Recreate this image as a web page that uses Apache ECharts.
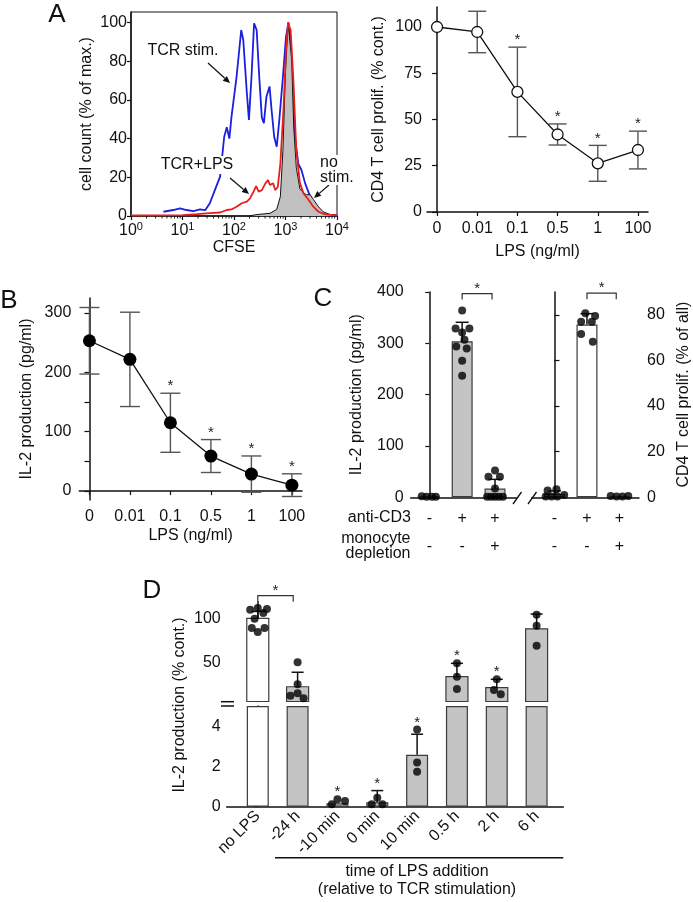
<!DOCTYPE html>
<html><head><meta charset="utf-8">
<script src="https://cdn.jsdelivr.net/npm/echarts@6/dist/echarts.min.js"></script>
<style>html,body{margin:0;padding:0;background:#fff}#c{width:693px;height:902px}</style>
</head><body><div id="c"></div>
<script>
// ---------------- Panel A (CFSE histogram) ----------------
const blueExp   = [0.63,0.82,0.95,1.08,1.21,1.34,1.44,1.53,1.63,1.73,1.81,1.86,1.91,1.95,2.05,2.14,2.18,2.25,2.29,2.34,2.39,2.44,2.49,2.54,2.58,2.63,2.69,2.73,2.78,2.83,2.88,2.95,3.01,3.06,3.12,3.18,3.25,3.31,3.38,3.48,3.57,3.7,3.86,4.0];
const blueCount = [2.2,3.1,4,3.1,2.5,3.4,3,6.6,13.5,20.4,41,45.9,40,51,72,96.2,91,63.5,49.7,72,99.7,96.2,72,51,48,61.7,67,54.8,41,35.8,49.7,72,92.8,100,80.7,41,27,23.8,17,10,4.8,1.4,0.5,0];
const redExp    = [0,0.5,1.0,1.28,1.53,1.73,1.86,1.95,2.05,2.15,2.25,2.31,2.38,2.43,2.48,2.54,2.61,2.66,2.7,2.76,2.8,2.85,2.9,2.96,3.01,3.05,3.1,3.15,3.21,3.28,3.35,3.45,3.54,3.64,3.77,4.0];
const redCount  = [0.3,0.3,0.5,1,1.5,1.8,3.1,3.4,4.8,6.6,7.4,9.1,12.6,15.5,12.6,13.4,16.9,18.6,16,16.9,13.4,15,27,54.8,86,100,96,72,34,17,11.7,8.3,4.8,2.2,0.8,0.3];
const grayExp   = [2.3,2.43,2.7,2.83,2.9,2.95,3.0,3.05,3.12,3.16,3.21,3.28,3.35,3.41,3.48,3.54,3.64,3.73,3.86,4.0];
const grayCount = [0,0.7,1.4,3.4,10,34,75,100,80.7,46,25,14,12,11,11,8.6,4.8,2.2,0.8,0.5];
const histYTicks = [0,20,40,60,80,100];
const histMinorTicks = [2,3,4,5,6,7,8,9,20,30,40,50,60,70,80,90,200,300,400,500,600,700,800,900,2000,3000,4000,5000,6000,7000,8000,9000];

// ---------------- Panel A (proliferation vs LPS) ----------------
const lpsCats    = ['0','0.01','0.1','0.5','1','100'];
const prolifMean = [100,97.3,64.9,41.9,26.3,33.5];
const prolifSd   = [0,11.2,24.2,5.7,9.7,10.2];
const prolifSig  = [0,0,1,1,1,1];
const prolifTicks = [0,25,50,75,100];

// ---------------- Panel B (IL-2 vs LPS) ----------------
const il2Mean = [253,221.7,115,59,28.6,10];
const il2Sd   = [56,79.4,49.7,27.7,30.5,19.1];
const il2Sig  = [0,0,1,1,1,1];
const il2Ticks  = [0,50,100,150,200,250,300];
const il2Labels = [0,100,200,300];

// ---------------- Panel C ----------------
const cAntiCD3   = ['-','+','+','-','+','+'];
const cDepletion = ['-','-','+','-','-','+'];
const cIl2Mean = [1.5,304,17];
const cIl2Sd   = [0,37,18];
const cIl2Dots = [[2,1,1,1],[364,329,329,321,307,294,290,266,237],[52,40,40,17,1,1,1,1,1]];
const cIl2Jitter = [[-0.23,-0.08,0.08,0.2],[0,-0.2,0.22,0,0.07,-0.18,0.14,0,0],[0,-0.2,0.15,0,-0.24,-0.12,0,0.12,0.24]];
const cProlifMean = [1.4,75.7,0.5];
const cProlifSd   = [1.4,4.8,0];
const cProlifDots = [[3,3.5,0.3,0.3,0.3,1],[80.7,79.5,77,77,71.6,68.2],[0.6,0.4,0.4,0.6]];
const cProlifJitter = [[-0.21,0.06,-0.27,-0.09,0.09,0.3],[-0.05,0.25,-0.18,0.15,-0.18,0.18],[-0.27,-0.09,0.09,0.27]];
const cIl2Bracket = [1,1.91,397];
const cProlifBracket = [1,1.9,89.5];
const cIl2Ticks = [0,100,200,300,400];
const cProlifTicks = [0,20,40,60,80];

// ---------------- Panel D ----------------
const dCats = ['no LPS','-24 h','-10 min','0 min','10 min','0.5 h','2 h','6 h'];
const dMean = [100.8,22,0.17,0.22,2.58,33.6,21,88.8];
const dSd   = [8,16.7,0,0.58,1.02,15.4,9.6,17];
const dSig  = [0,0,1,1,1,1,1,0];
const dDots = [[110.7,112.7,111.6,107,100.3,89.6,85,89.6],[50.3,24.9,11.7,14.5,8.7],[0.37,0.12,0.28],[0.45,0.12,0.12],[3.83,2.2,1.73],[49,33.6,19.4],[30.6,18.3,13.3],[105,92.3,69.1]];
const dJitter = [[-0.19,0,0.23,0.14,-0.08,-0.15,0,0.17],[0,0,-0.18,0,0.15],[0,-0.14,0.19],[0,-0.14,0.13],[0,0,0],[0,0,0],[0,-0.07,0.1],[0,0,0]];
const dBracket = [0,0.89,127];
const dBreak = 5;
const dUpperTicks = [50,100];
const dLowerTicks = [0,2,4];

// ---------------- styling ----------------
const FONT = '"Liberation Sans", Arial, Helvetica, sans-serif';
const INK = '#111';
const GRAY = '#c4c4c4';
const EDGE = '#3c3c3c';
const FS = 16;

function merge(a, b) {
  const out = Array.isArray(a) ? a.slice() : Object.assign({}, a);
  for (const k in b) {
    if (b[k] && typeof b[k] === 'object' && !Array.isArray(b[k]) && typeof b[k] !== 'function' && a && a[k] && typeof a[k] === 'object' && !Array.isArray(a[k])) out[k] = merge(a[k], b[k]);
    else out[k] = b[k];
  }
  return out;
}
const baseAxis = {
  type: 'value',
  axisLine: {show: true, lineStyle: {color: INK, width: 1.5}},
  axisTick: {show: true, length: 4, lineStyle: {color: INK, width: 1.2}},
  axisLabel: {color: INK, fontSize: FS, fontFamily: FONT, margin: 6},
  splitLine: {show: false},
  nameLocation: 'middle',
  nameTextStyle: {color: INK, fontSize: FS, fontFamily: FONT}
};
const ax = o => merge(baseAxis, o);

function errRender(opt) {
  return function (params, api) {
    const x = api.value(0), m = api.value(1), sd = api.value(2), sig = api.value(3), st = api.value(4);
    const c = api.coord([x, m]);
    const hi = api.coord([x, m + sd]);
    const lo = api.coord([x, opt.two ? m - sd : m]);
    const s = {stroke: opt.color, lineWidth: opt.lw};
    const ch = [];
    if (sd > 0) {
      ch.push({type: 'line', shape: {x1: c[0], y1: lo[1], x2: c[0], y2: hi[1]}, style: s});
      ch.push({type: 'line', shape: {x1: c[0] - opt.cap, y1: hi[1], x2: c[0] + opt.cap, y2: hi[1]}, style: s});
      if (opt.two) ch.push({type: 'line', shape: {x1: c[0] - opt.cap, y1: lo[1], x2: c[0] + opt.cap, y2: lo[1]}, style: s});
    }
    if (sig) {
      const p = api.coord([x, st]);
      ch.push({type: 'text', style: {text: '*', x: p[0], y: p[1] - opt.starGap, align: 'center', verticalAlign: 'middle', fontSize: 15, fontFamily: FONT, fill: '#222'}});
    }
    return {type: 'group', children: ch};
  };
}
function bracketRender(params, api) {
  const a = api.coord([api.value(0), api.value(2)]);
  const b = api.coord([api.value(1), api.value(2)]);
  return {type: 'group', children: [
    {type: 'polyline', shape: {points: [[a[0], a[1] + 6], [a[0], a[1]], [b[0], b[1]], [b[0], b[1] + 6]]}, style: {stroke: '#333', lineWidth: 1.2, fill: null}},
    {type: 'text', style: {text: '*', x: (a[0] + b[0]) / 2, y: a[1] - 5, align: 'center', verticalAlign: 'middle', fontSize: 15, fontFamily: FONT, fill: '#222'}}
  ]};
}
const errSeries = (xi, yi, data, opt) => ({type: 'custom', xAxisIndex: xi, yAxisIndex: yi, data, renderItem: errRender(opt), encode: {x: 0, y: 1}, silent: true, z: opt.z || 3, clip: false});
const dotSeries = (xi, yi, data, size) => ({type: 'scatter', xAxisIndex: xi, yAxisIndex: yi, data, symbolSize: size, itemStyle: {color: '#000'}, silent: true, z: 5, clip: false});
const bracketSeries = (xi, yi, b) => ({type: 'custom', xAxisIndex: xi, yAxisIndex: yi, data: [b], renderItem: bracketRender, encode: {x: 0, y: 2}, silent: true, clip: false, z: 5});

function dotsFrom(groups, jit, filter) {
  const out = [];
  groups.forEach((g, i) => g.forEach((v, j) => { if (!filter || filter(v)) out.push([i + jit[i][j], v]); }));
  return out;
}
const maxDot = (groups, i) => groups ? Math.max.apply(null, groups[i]) : -Infinity;

// ---------------- grids ----------------
const grid = [
  {left: 131, top: 12, width: 206, height: 204, show: true, borderColor: INK, borderWidth: 1, backgroundColor: 'transparent'},
  {left: 427, top: 7, width: 221, height: 205},
  {left: 79.3, top: 298, width: 222.7, height: 202},
  {left: 410.7, top: 292, width: 106, height: 205.3},
  {left: 531.7, top: 292, width: 110, height: 205.3},
  {left: 226.7, top: 601.7, width: 336.6, height: 99.8},
  {left: 226.7, top: 706, width: 336.6, height: 100.7}
];

const xAxis = [
  ax({type: 'log', logBase: 10, gridIndex: 0, min: 1, max: 10000, name: 'CFSE', nameGap: 24,
      axisTick: {length: 4},
      axisLabel: {margin: 5, formatter: v => '10{e|' + Math.round(Math.log10(v)) + '}',
                  rich: {e: {fontSize: 11, fontFamily: FONT, color: INK, padding: [0, 0, 8, 0], verticalAlign: 'bottom'}}}}),
  ax({gridIndex: 1, min: -0.25, max: 5.25, name: 'LPS (ng/ml)', nameGap: 32,
      axisTick: {customValues: [0, 1, 2, 3, 4, 5]},
      axisLabel: {margin: 9, customValues: [0, 1, 2, 3, 4, 5], formatter: v => lpsCats[Math.round(v)]}}),
  ax({gridIndex: 2, min: -0.25, max: 5.25, name: 'LPS (ng/ml)', nameGap: 28,
      axisTick: {customValues: [0, 1, 2, 3, 4, 5]},
      axisLabel: {margin: 9, customValues: [0, 1, 2, 3, 4, 5], formatter: v => lpsCats[Math.round(v)]}}),
  ax({gridIndex: 3, min: -0.566, max: 2.66, axisTick: {show: false},
      axisLabel: {margin: 7, customValues: [0, 1, 2], formatter: v => '{r|' + cAntiCD3[Math.round(v)] + '}\n{r|' + cDepletion[Math.round(v)] + '}',
                  rich: {r: {fontSize: FS, fontFamily: FONT, color: INK, lineHeight: 28}}}}),
  ax({gridIndex: 4, min: -0.7, max: 2.6, axisTick: {show: false},
      axisLabel: {margin: 7, customValues: [0, 1, 2], formatter: v => '{r|' + cAntiCD3[Math.round(v) + 3] + '}\n{r|' + cDepletion[Math.round(v) + 3] + '}',
                  rich: {r: {fontSize: FS, fontFamily: FONT, color: INK, lineHeight: 28}}}}),
  ax({gridIndex: 5, min: -0.78, max: 7.67, show: false}),
  ax({gridIndex: 6, min: -0.78, max: 7.67, axisTick: {show: false},
      axisLabel: {margin: 7, rotate: 45, customValues: [0, 1, 2, 3, 4, 5, 6, 7], formatter: v => dCats[Math.round(v)]}})
];

const yAxis = [
  ax({gridIndex: 0, min: 0, max: 105.5, name: 'cell count (% of max.)', nameGap: 36,
      axisTick: {customValues: histYTicks}, axisLabel: {margin: 4, customValues: histYTicks}}),
  ax({gridIndex: 1, min: 0, max: 110.8, name: 'CD4 T cell prolif. (% cont.)', nameGap: 40,
      axisTick: {length: 5, customValues: prolifTicks}, axisLabel: {margin: 5, customValues: prolifTicks}}),
  ax({gridIndex: 2, min: -15, max: 325, name: 'IL-2 production (pg/ml)', nameGap: 45,
      axisTick: {length: 5, customValues: il2Ticks}, axisLabel: {margin: 8, customValues: il2Labels}}),
  ax({gridIndex: 3, min: 0, max: 400, name: 'IL-2 production (pg/ml)', nameGap: 46,
      axisTick: {customValues: cIl2Ticks}, axisLabel: {margin: 7, customValues: cIl2Ticks}}),
  ax({gridIndex: 4, min: 0, max: 90, position: 'right', name: 'CD4 T cell prolif. (% of all)', nameGap: 37, nameRotate: 90,
      axisTick: {length: 5, customValues: cProlifTicks}, axisLabel: {margin: 8, customValues: cProlifTicks}}),
  ax({gridIndex: 5, min: dBreak, max: 120, axisTick: {customValues: dUpperTicks}, axisLabel: {margin: 6, customValues: dUpperTicks}}),
  ax({gridIndex: 6, min: 0, max: dBreak, axisTick: {customValues: dLowerTicks}, axisLabel: {margin: 6, customValues: dLowerTicks}})
];

// ---------------- series ----------------
const series = [];
const histLine = (exps, counts, color, w, z, area) => ({
  type: 'line', xAxisIndex: 0, yAxisIndex: 0, showSymbol: false, symbol: 'none', silent: true, z,
  data: exps.map((e, i) => [Math.pow(10, e), counts[i]]),
  lineStyle: {color, width: w}, areaStyle: area ? {color: area, opacity: 1} : undefined
});
series.push(histLine(blueExp, blueCount, '#1c1ee0', 1.8, 2));
series.push(histLine(grayExp, grayCount, '#111', 1, 3, '#c0c0c0'));
series.push(histLine(redExp, redCount, '#ea1d1d', 1.8, 4));
// minor ticks of the log CFSE axis (placed through the axis scale)
series.push({type: 'custom', xAxisIndex: 0, yAxisIndex: 0, silent: true, clip: false, z: 6, encode: {x: 0, y: 1},
  data: histMinorTicks.map(v => [v, 0]),
  renderItem: (params, api) => {
    const p = api.coord([api.value(0), api.value(1)]);
    return {type: 'line', shape: {x1: p[0], y1: p[1], x2: p[0], y2: p[1] + 2.5}, style: {stroke: INK, lineWidth: 0.9}};
  }});

// Panel A right
series.push(errSeries(1, 1, prolifMean.map((m, i) => [i, m, prolifSd[i], prolifSig[i], m + prolifSd[i]]), {two: true, cap: 9, color: '#555', lw: 1.4, starGap: 7, z: 2}));
series.push({type: 'line', xAxisIndex: 1, yAxisIndex: 1, data: prolifMean.map((m, i) => [i, m]), symbol: 'circle', symbolSize: 11,
  lineStyle: {color: INK, width: 1.3}, itemStyle: {color: '#fff', borderColor: INK, borderWidth: 1.3}, silent: true, z: 3});

// Panel B
series.push(errSeries(2, 2, il2Mean.map((m, i) => [i, m, il2Sd[i], il2Sig[i], m + il2Sd[i]]), {two: true, cap: 10, color: '#555', lw: 1.4, starGap: 7, z: 2}));
series.push({type: 'line', xAxisIndex: 2, yAxisIndex: 2, data: il2Mean.map((m, i) => [i, m]), symbol: 'circle', symbolSize: 13,
  lineStyle: {color: INK, width: 1.3}, itemStyle: {color: '#000'}, silent: true, z: 3});

// Panel C
series.push({type: 'bar', xAxisIndex: 3, yAxisIndex: 3, barWidth: 21, clip: false, silent: true, z: 2,
  data: cIl2Mean.map((m, i) => [i, m]), itemStyle: {color: GRAY, borderColor: EDGE, borderWidth: 1.2}});
series.push(errSeries(3, 3, cIl2Mean.map((m, i) => [i, m, cIl2Sd[i], 0, 0]), {two: false, cap: 6.5, color: INK, lw: 1.5, starGap: 7}));
series.push(dotSeries(3, 3, dotsFrom(cIl2Dots, cIl2Jitter), 8));
series.push(bracketSeries(3, 3, cIl2Bracket));
series.push({type: 'bar', xAxisIndex: 4, yAxisIndex: 4, barWidth: 21, clip: false, silent: true, z: 2,
  data: cProlifMean.map((m, i) => [i, m]), itemStyle: {color: '#fff', borderColor: EDGE, borderWidth: 1.2}});
series.push(errSeries(4, 4, cProlifMean.map((m, i) => [i, m, cProlifSd[i], 0, 0]), {two: false, cap: 6.5, color: INK, lw: 1.5, starGap: 7}));
series.push(dotSeries(4, 4, dotsFrom(cProlifDots, cProlifJitter), 8));
series.push(bracketSeries(4, 4, cProlifBracket));

// Panel D
const dFill = i => (i === 0 ? '#fff' : GRAY);
// upper segment: bars drawn from the break value up to the mean
series.push({type: 'custom', xAxisIndex: 5, yAxisIndex: 5, silent: true, clip: false, z: 2, encode: {x: 0, y: 2},
  data: dMean.map((m, i) => [i, dBreak, m]).filter(r => r[2] > dBreak),
  renderItem: (params, api) => {
    const x = api.value(0);
    const lo = api.coord([x, api.value(1)]), hi = api.coord([x, api.value(2)]);
    return {type: 'rect', shape: {x: lo[0] - 11, y: hi[1], width: 22, height: lo[1] - hi[1]},
            style: {fill: dFill(Math.round(x)), stroke: EDGE, lineWidth: 1.2}};
  }});
series.push({type: 'bar', xAxisIndex: 6, yAxisIndex: 6, barWidth: 22, clip: false, silent: true, z: 2,
  data: dMean.map((m, i) => ({value: [i, Math.min(m, dBreak)], itemStyle: {color: dFill(i)}})),
  itemStyle: {borderColor: EDGE, borderWidth: 1.2}});
const dErr = dMean.map((m, i) => [i, m, dSd[i], dSig[i], Math.max(m + dSd[i], maxDot(dDots, i))]);
series.push(errSeries(5, 5, dErr.filter(r => r[1] > dBreak), {two: false, cap: 6, color: INK, lw: 1.5, starGap: 7}));
series.push(errSeries(6, 6, dErr.filter(r => r[1] <= dBreak), {two: false, cap: 6, color: INK, lw: 1.5, starGap: 7}));
series.push(dotSeries(5, 5, dotsFrom(dDots, dJitter, v => v > dBreak), 8));
series.push(dotSeries(6, 6, dotsFrom(dDots, dJitter, v => v <= dBreak), 8));
series.push(bracketSeries(5, 5, dBracket));

// ---------------- annotations ----------------
function txt(text, x, y, o) {
  return merge({type: 'text', x, y, z: 50, style: {text, fontSize: FS, fontFamily: FONT, fill: INK, align: 'center', verticalAlign: 'middle'}}, o || {});
}
function arrow(x1, y1, x2, y2) {
  const a = Math.atan2(y2 - y1, x2 - x1), L = 7, W = 3.2;
  const bx = x2 - L * Math.cos(a), by = y2 - L * Math.sin(a);
  return {type: 'group', z: 50, children: [
    {type: 'line', shape: {x1, y1, x2: bx, y2: by}, style: {stroke: INK, lineWidth: 1.2}},
    {type: 'polygon', shape: {points: [[x2, y2], [bx - W * Math.sin(a), by + W * Math.cos(a)], [bx + W * Math.sin(a), by - W * Math.cos(a)]]}, style: {fill: INK}}
  ]};
}
const line = (x1, y1, x2, y2, w) => ({type: 'line', z: 50, shape: {x1, y1, x2, y2}, style: {stroke: INK, lineWidth: w || 1.5}});

const graphic = [
  txt('A', 57, 15, {style: {fontSize: 26}}),
  txt('B', 9, 301, {style: {fontSize: 26}}),
  txt('C', 323, 299, {style: {fontSize: 26}}),
  txt('D', 152, 591, {style: {fontSize: 26}}),
  txt('TCR stim.', 183, 51),
  arrow(208, 63, 230, 83),
  txt('TCR+LPS', 197, 165, {style: {backgroundColor: '#fff', padding: [1, 2, 1, 2]}}),
  arrow(230, 178, 249, 194),
  txt('no\nstim.', 320, 170, {style: {align: 'left', lineHeight: 15, backgroundColor: '#fff'}}),
  arrow(329, 185, 314, 198),
  line(513, 504, 521.5, 492, 1.3),
  line(528, 504, 536.5, 492, 1.3),
  txt('anti-CD3', 411, 518, {style: {align: 'right'}}),
  txt('monocyte', 410.5, 539, {style: {align: 'right', lineHeight: 15}}),
  txt('depletion', 410.5, 554, {style: {align: 'right'}}),
  line(221, 701.7, 234, 701.7, 1.5),
  line(221, 706, 234, 706, 1.5),
  txt('IL-2 production (% cont.)', 180, 705, {rotation: Math.PI / 2}),
  line(275, 857.7, 563.3, 857.7, 1.5),
  txt('time of LPS addition', 417, 872),
  txt('(relative to TCR stimulation)', 417, 890)
];

const chart = echarts.init(document.getElementById('c'), null, {renderer: 'canvas'});
chart.setOption({animation: false, backgroundColor: '#fff', textStyle: {fontFamily: FONT}, grid, xAxis, yAxis, series, graphic});
</script></body></html>
